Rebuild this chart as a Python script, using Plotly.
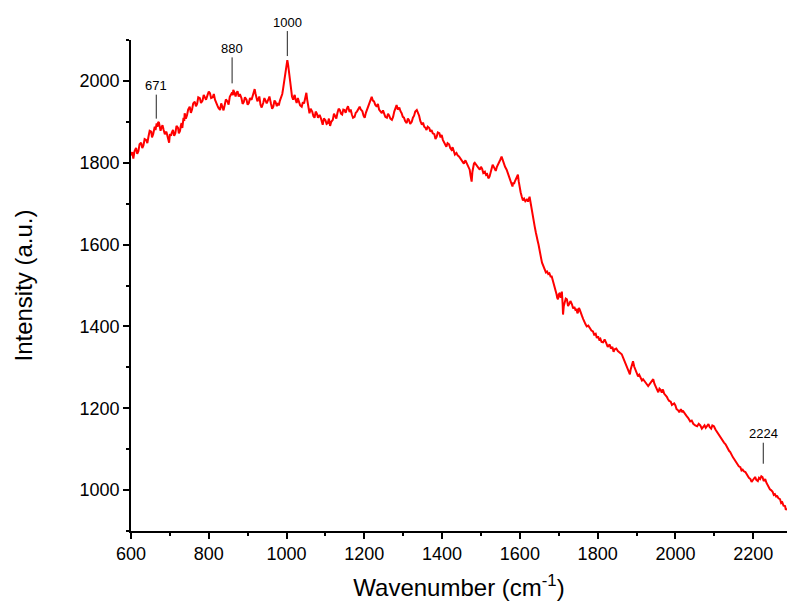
import numpy as np
import plotly.graph_objects as go

# Raman spectrum
wavenumber = [
    600, 603, 606, 609, 613, 616, 619, 622, 626, 629, 632, 635, 639, 642, 645, 648, 652, 654, 657, 659,
    661, 663, 666, 668, 670, 672, 674, 676, 678, 681, 684, 687, 691, 694, 698, 700, 703, 705, 708, 711,
    714, 717, 721, 723, 726, 728, 730, 732, 735, 737, 738, 741, 744, 747, 751, 754, 757, 760, 764, 767,
    770, 773, 777, 780, 784, 787, 790, 793, 797, 800, 803, 806, 810, 813, 816, 819, 822, 825, 829, 832,
    835, 838, 841, 844, 848, 851, 854, 857, 860, 862, 863, 865, 867, 869, 871, 874, 877, 880, 884, 887,
    890, 893, 897, 900, 903, 906, 910, 912, 915, 917, 918, 920, 922, 925, 927, 930, 933, 936, 940, 943,
    946, 949, 953, 956, 960, 963, 966, 969, 972, 975, 978, 980, 983, 985, 987, 989, 991, 993, 995, 997,
    999, 1001, 1002, 1004, 1005, 1007, 1008, 1010, 1012, 1014, 1017, 1019, 1021, 1023, 1026, 1029, 1032, 1035, 1039, 1042,
    1045, 1048, 1051, 1053, 1055, 1057, 1059, 1062, 1066, 1069, 1072, 1075, 1078, 1081, 1085, 1088, 1090, 1092, 1093, 1096,
    1100, 1103, 1106, 1109, 1112, 1115, 1119, 1122, 1125, 1128, 1131, 1134, 1137, 1140, 1143, 1146, 1149, 1152, 1155, 1158,
    1162, 1165, 1168, 1171, 1175, 1178, 1181, 1184, 1188, 1191, 1195, 1198, 1201, 1204, 1207, 1210, 1213, 1216, 1219, 1222,
    1225, 1228, 1232, 1235, 1238, 1241, 1245, 1248, 1251, 1254, 1258, 1261, 1264, 1267, 1271, 1274, 1277, 1280, 1283, 1286,
    1290, 1293, 1296, 1299, 1302, 1305, 1309, 1312, 1315, 1318, 1322, 1325, 1328, 1331, 1335, 1338, 1341, 1344, 1348, 1351,
    1354, 1357, 1360, 1363, 1367, 1370, 1373, 1376, 1380, 1383, 1386, 1389, 1393, 1396, 1399, 1402, 1405, 1408, 1411, 1414,
    1418, 1421, 1424, 1427, 1430, 1433, 1437, 1440, 1444, 1447, 1450, 1453, 1456, 1460, 1463, 1466, 1468, 1470, 1471, 1473,
    1476, 1478, 1480, 1482, 1484, 1487, 1490, 1493, 1497, 1500, 1503, 1506, 1510, 1513, 1516, 1519, 1522, 1524, 1526, 1528,
    1530, 1533, 1536, 1538, 1541, 1544, 1547, 1550, 1553, 1556, 1559, 1562, 1566, 1569, 1572, 1575, 1579, 1581, 1583, 1585,
    1587, 1589, 1591, 1593, 1595, 1597, 1600, 1602, 1605, 1608, 1611, 1614, 1618, 1621, 1625, 1627, 1629, 1631, 1633, 1635,
    1638, 1641, 1644, 1646, 1648, 1650, 1651, 1653, 1655, 1657, 1659, 1662, 1665, 1667, 1670, 1673, 1676, 1679, 1682, 1684,
    1686, 1688, 1690, 1692, 1694, 1696, 1698, 1700, 1703, 1705, 1708, 1710, 1711, 1713, 1716, 1718, 1721, 1724, 1727, 1730,
    1734, 1737, 1740, 1743, 1746, 1748, 1750, 1752, 1754, 1757, 1760, 1763, 1766, 1769, 1772, 1776, 1780, 1784, 1788, 1791,
    1795, 1798, 1801, 1804, 1807, 1810, 1814, 1818, 1822, 1826, 1831, 1834, 1838, 1841, 1844, 1848, 1852, 1857, 1862, 1865,
    1868, 1871, 1874, 1877, 1880, 1882, 1883, 1885, 1887, 1889, 1891, 1894, 1897, 1900, 1904, 1907, 1911, 1914, 1917, 1920,
    1924, 1927, 1930, 1933, 1937, 1940, 1943, 1946, 1950, 1953, 1956, 1959, 1962, 1965, 1968, 1971, 1975, 1978, 1981, 1984,
    1988, 1991, 1994, 1997, 2000, 2003, 2007, 2010, 2014, 2017, 2020, 2024, 2028, 2033, 2038, 2042, 2046, 2051, 2056, 2060,
    2064, 2068, 2072, 2075, 2078, 2081, 2085, 2088, 2092, 2095, 2099, 2103, 2108, 2112, 2116, 2119, 2122, 2125, 2129, 2132,
    2135, 2138, 2141, 2144, 2148, 2151, 2154, 2157, 2160, 2163, 2167, 2170, 2173, 2176, 2180, 2183, 2186, 2189, 2193, 2196,
    2199, 2202, 2205, 2208, 2212, 2215, 2218, 2221, 2224, 2227, 2231, 2234, 2237, 2240, 2243, 2246, 2250, 2253, 2256, 2259,
    2262, 2265, 2269, 2272, 2275, 2278, 2282, 2284, 2287,
]
intensity = [
    1818, 1826, 1810, 1828, 1836, 1822, 1828, 1845, 1849, 1836, 1842, 1858, 1856, 1848, 1864, 1878, 1876, 1862, 1870, 1885,
    1888, 1880, 1896, 1888, 1900, 1898, 1890, 1878, 1885, 1892, 1880, 1870, 1876, 1862, 1849, 1870, 1866, 1874, 1880, 1866,
    1872, 1890, 1885, 1872, 1878, 1890, 1897, 1885, 1910, 1902, 1921, 1908, 1916, 1930, 1937, 1922, 1930, 1945, 1949, 1938,
    1944, 1960, 1958, 1946, 1952, 1966, 1961, 1954, 1966, 1974, 1970, 1958, 1960, 1968, 1954, 1945, 1940, 1934, 1929, 1945,
    1938, 1928, 1941, 1955, 1950, 1942, 1961, 1966, 1972, 1965, 1978, 1974, 1970, 1962, 1970, 1975, 1962, 1968, 1958, 1944,
    1948, 1960, 1954, 1942, 1946, 1958, 1954, 1962, 1968, 1975, 1980, 1970, 1962, 1950, 1954, 1962, 1942, 1935, 1946, 1958,
    1952, 1945, 1954, 1962, 1944, 1932, 1937, 1952, 1948, 1938, 1946, 1940, 1952, 1958, 1961, 1968, 1980, 1995, 2010, 2025,
    2040, 2048, 2051, 2040, 2030, 2015, 2002, 1990, 1978, 1962, 1954, 1962, 1966, 1955, 1946, 1958, 1950, 1940, 1937, 1948,
    1945, 1955, 1971, 1955, 1940, 1930, 1921, 1932, 1925, 1914, 1910, 1925, 1920, 1910, 1917, 1910, 1905, 1898, 1893, 1908,
    1904, 1895, 1897, 1908, 1890, 1900, 1905, 1920, 1915, 1908, 1922, 1932, 1929, 1920, 1918, 1930, 1929, 1922, 1932, 1938,
    1924, 1930, 1918, 1910, 1912, 1922, 1925, 1932, 1937, 1930, 1926, 1915, 1910, 1922, 1930, 1938, 1945, 1955, 1961, 1952,
    1950, 1942, 1937, 1944, 1930, 1926, 1921, 1928, 1918, 1912, 1910, 1920, 1915, 1908, 1905, 1912, 1925, 1935, 1941, 1930,
    1935, 1926, 1921, 1912, 1910, 1902, 1897, 1908, 1904, 1895, 1900, 1910, 1915, 1925, 1929, 1922, 1915, 1902, 1893, 1898,
    1888, 1886, 1880, 1888, 1885, 1876, 1880, 1872, 1870, 1858, 1863, 1874, 1872, 1862, 1868, 1856, 1850, 1844, 1839, 1848,
    1845, 1836, 1832, 1838, 1830, 1820, 1824, 1818, 1815, 1810, 1807, 1800, 1798, 1806, 1800, 1794, 1790, 1786, 1783, 1770,
    1754, 1778, 1790, 1798, 1800, 1795, 1792, 1788, 1783, 1790, 1785, 1775, 1778, 1770, 1772, 1762, 1766, 1772, 1780, 1790,
    1795, 1790, 1785, 1780, 1790, 1795, 1800, 1808, 1815, 1806, 1800, 1790, 1783, 1775, 1765, 1758, 1746, 1742, 1752, 1748,
    1754, 1758, 1762, 1768, 1771, 1755, 1735, 1728, 1717, 1708, 1712, 1706, 1710, 1705, 1717, 1705, 1690, 1680, 1668, 1658,
    1645, 1630, 1620, 1608, 1600, 1588, 1580, 1570, 1565, 1556, 1551, 1545, 1540, 1532, 1534, 1528, 1530, 1522, 1522, 1515,
    1510, 1502, 1498, 1488, 1480, 1470, 1466, 1478, 1482, 1470, 1485, 1455, 1429, 1450, 1460, 1468, 1466, 1450, 1455, 1462,
    1454, 1444, 1448, 1440, 1441, 1432, 1436, 1445, 1441, 1430, 1425, 1418, 1410, 1405, 1400, 1402, 1396, 1390, 1388, 1380,
    1382, 1372, 1376, 1368, 1370, 1362, 1361, 1368, 1360, 1350, 1356, 1346, 1350, 1338, 1344, 1346, 1340, 1335, 1332, 1325,
    1318, 1310, 1302, 1296, 1292, 1288, 1283, 1295, 1300, 1310, 1315, 1302, 1295, 1285, 1278, 1282, 1275, 1268, 1271, 1266,
    1262, 1258, 1254, 1258, 1262, 1268, 1271, 1260, 1252, 1244, 1239, 1248, 1245, 1238, 1246, 1236, 1232, 1228, 1222, 1218,
    1216, 1208, 1210, 1212, 1207, 1198, 1195, 1190, 1198, 1192, 1193, 1186, 1182, 1176, 1168, 1170, 1162, 1158, 1156, 1162,
    1158, 1150, 1154, 1158, 1152, 1156, 1161, 1154, 1150, 1158, 1156, 1148, 1140, 1134, 1129, 1125, 1120, 1116, 1112, 1106,
    1102, 1096, 1093, 1086, 1080, 1076, 1071, 1068, 1064, 1058, 1056, 1048, 1050, 1046, 1044, 1038, 1036, 1030, 1027, 1020,
    1024, 1028, 1032, 1025, 1022, 1030, 1027, 1034, 1032, 1022, 1027, 1018, 1012, 1006, 1002, 1000, 996, 988, 990, 984,
    985, 980, 978, 968, 970, 962, 961, 952, 955,
]

peak_positions = [665, 860, 1002, 2226]
peak_labels = ["671", "880", "1000", "2224"]
peak_standoff = [7, 9, 4, 16]
peak_offset = [-40, -44, -38, -46]

FONT = "Liberation Sans, Arial, sans-serif"

fig = go.Figure()
fig.add_trace(go.Scatter(
    x=wavenumber, y=intensity, mode="lines",
    line=dict(color="#ff0000", width=2), showlegend=False,
))

peak_y = np.interp(peak_positions, wavenumber, intensity)
for xp, yp, lab, so, off in zip(peak_positions, peak_y, peak_labels, peak_standoff, peak_offset):
    fig.add_annotation(
        x=xp, y=float(yp), text=lab, showarrow=True, arrowhead=0, arrowwidth=1,
        arrowcolor="#222", standoff=so, ax=0, ay=off,
        font=dict(family=FONT, size=13, color="#000"),
    )

axis_common = dict(
    showgrid=False, zeroline=False, showline=True, linecolor="#000", linewidth=1.6,
    ticks="outside", ticklen=6, tickwidth=1.6, tickcolor="#000",
    tickfont=dict(family=FONT, size=18, color="#000"),
)

fig.update_xaxes(
    range=[600, 2287], tick0=600, dtick=200,
    minor=dict(ticks="outside", ticklen=3, tickwidth=1.6, tickcolor="#000", dtick=100, tick0=600),
    title=dict(text="Wavenumber (cm<sup>-1</sup>)", font=dict(family=FONT, size=24, color="#000"), standoff=16),
    **axis_common,
)
fig.update_yaxes(
    range=[900, 2100], tick0=1000, dtick=200,
    minor=dict(ticks="outside", ticklen=3, tickwidth=1.6, tickcolor="#000", dtick=100, tick0=900),
    title=dict(text="Intensity (a.u.)", font=dict(family=FONT, size=24, color="#000"), standoff=40),
    **axis_common,
)

fig.update_layout(
    width=787, height=610,
    margin=dict(l=131, r=0, t=40, b=79),
    plot_bgcolor="#fff", paper_bgcolor="#fff",
)

fig.write_html("out.html")
